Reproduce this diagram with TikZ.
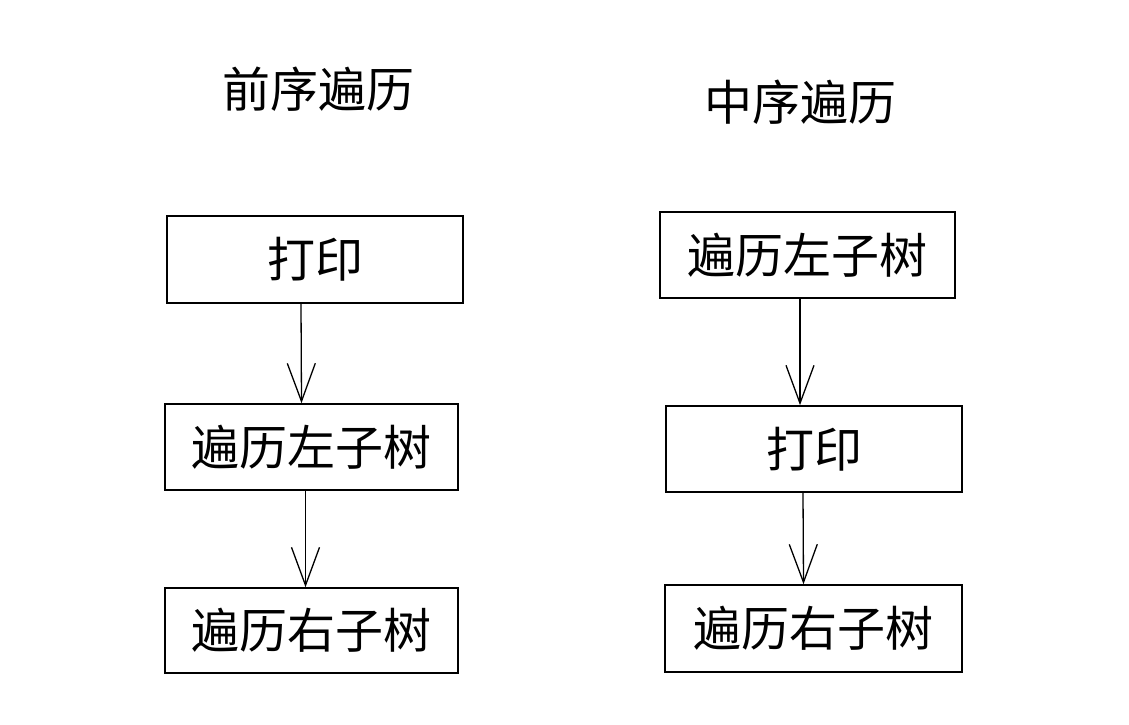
\documentclass[tikz,border=0pt]{standalone}
\usepackage{fontspec}
\newfontfamily\cjk{Noto Sans CJK SC}
\usetikzlibrary{arrows.meta}
\begin{document}
\begin{tikzpicture}[x=1pt,y=-1pt,
  stepbox/.style={draw, line width=1.6pt, rectangle, inner sep=0pt, font=\cjk\fontsize{48}{54}\selectfont},
  titletext/.style={font=\cjk\fontsize{48}{54}\selectfont},
  arr/.style={line width=1.3pt, -{Straight Barb[length=38pt,width=28pt,line width=1.3pt]}}]
\useasboundingbox (0,0) rectangle (1129,725);
\node[titletext] (lt) at (318,89) {前序遍历};
\node[titletext] (rt) at (800,102) {中序遍历};
\node[stepbox, minimum width=296, minimum height=87] (L1) at (315,259.5) {打印};
\node[stepbox, minimum width=293, minimum height=86] (L2) at (311.5,447) {遍历左子树};
\node[stepbox, minimum width=293, minimum height=85] (L3) at (311.5,630.5) {遍历右子树};
\node[stepbox, minimum width=295, minimum height=86] (R1) at (807.5,255) {遍历左子树};
\node[stepbox, minimum width=296, minimum height=86] (R2) at (814,449) {打印};
\node[stepbox, minimum width=297, minimum height=87] (R3) at (813.5,628.5) {遍历右子树};
\draw[arr] ([xshift=-14]L1.south) -- ([xshift=-10]L2.north);
\draw[arr] ([xshift=-6]L2.south) -- ([xshift=-6]L3.north);
\draw[arr] ([xshift=-7.5]R1.south) -- ([xshift=-14]R2.north);
\draw[arr] ([xshift=-11]R2.south) -- ([xshift=-10]R3.north);
\end{tikzpicture}
\end{document}
